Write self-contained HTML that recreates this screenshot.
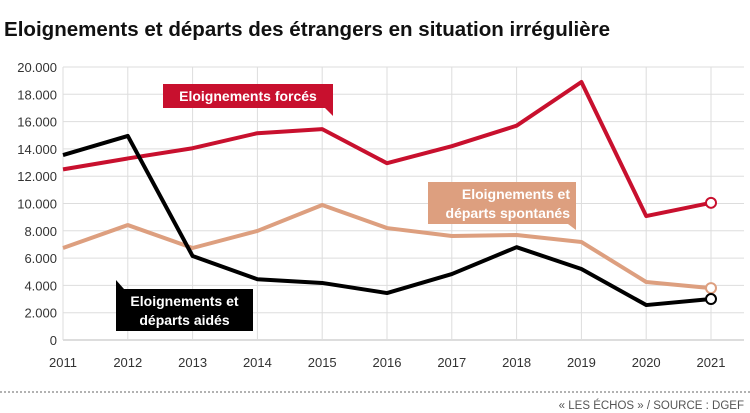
<!DOCTYPE html>
<html><head><meta charset="utf-8"><style>
html,body{margin:0;padding:0;background:#fff;width:750px;height:413px;overflow:hidden;font-family:"Liberation Sans",sans-serif}
</style></head><body>
<svg width="750" height="413" xmlns="http://www.w3.org/2000/svg">
<text x="4" y="36" font-size="20" font-weight="bold" fill="#111" textLength="606" lengthAdjust="spacingAndGlyphs">Eloignements et départs des étrangers en situation irrégulière</text>
<g id="grid"></g><g id="series"></g><g id="labels"></g>
<line x1="0" y1="392" x2="750" y2="392" stroke="#666" stroke-dasharray="2,2"/>
<text x="744" y="409" font-size="11.5" fill="#555" text-anchor="end">« LES ÉCHOS » / SOURCE : DGEF</text>
</svg>
<script>
const years=[2011,2012,2013,2014,2015,2016,2017,2018,2019,2020,2021];
const forces=[12500,13300,14050,15150,15450,12950,14200,15700,18900,9080,10050];
const aides=[13550,14950,6150,4450,4180,3440,4830,6800,5200,2560,3000];
const spontanes=[6740,8420,6740,7990,9890,8200,7620,7690,7180,4250,3800];
const yTicks=[0,2000,4000,6000,8000,10000,12000,14000,16000,18000,20000];
const NS="http://www.w3.org/2000/svg";
const x=i=>63+i*64.8;
const y=v=>340-v*(273/20000);
function mk(t,a,p){const e=document.createElementNS(NS,t);for(const k in a)e.setAttribute(k,a[k]);p.appendChild(e);return e;}
const grid=document.getElementById('grid');
yTicks.forEach(v=>{
  const l=mk('line',{x1:63,x2:744,y1:y(v),y2:y(v),stroke:v===0?'#bbb':'#ddd','stroke-width':1},grid);
  
  
  const t=mk('text',{x:57,y:y(v)+5,'font-size':13,fill:'#333','text-anchor':'end'},grid);
  t.textContent=v===0?'0':(Math.floor(v/1000)+'.000');
  
  
});
years.forEach((yr,i)=>{
  const l=mk('line',{x1:x(i),x2:x(i),y1:y(20000),y2:340,stroke:'#ddd','stroke-width':1},grid);
  
  
  const t=mk('text',{x:x(i),y:367,'font-size':13,fill:'#333','text-anchor':'middle'},grid);
  t.textContent=yr;
  
  
});
const ser=document.getElementById('series');
function line(vals,color,name){
  const p=mk('polyline',{points:vals.map((v,i)=>x(i)+','+y(v)).join(' '),fill:'none',stroke:color,'stroke-width':4,'stroke-linejoin':'round'},ser);
  
  
  const n=vals.length-1;
  const c=mk('circle',{cx:x(n),cy:y(vals[n]),r:5,fill:'#fff',stroke:color,'stroke-width':2},ser);
  
  
}
line(spontanes,'#dd9f7f','spontanes');
line(forces,'#c8102e','forces');
line(aides,'#000','aides');
const lab=document.getElementById('labels');
function label(x0,y0,w,h,color,lines,name,tail,anchor){
  const g=mk('g',{},lab);
  
  
  mk('rect',{x:x0,y:y0,width:w,height:h,fill:color},g);
  mk('polygon',{points:tail,fill:color},g);
  lines.forEach((s,i)=>{const t=mk('text',{x:anchor==='end'?x0+w-6:x0+w/2,y:y0+17+i*19,'font-size':14,'font-weight':'bold',fill:'#fff','text-anchor':anchor},g);t.textContent=s;});
}
label(163,84,170,24,'#c8102e',['Eloignements forcés'],'legend-forces','325,108 333,108 333,116','middle');
label(428,182,148,42,'#dd9f7f',['Eloignements et','départs spontanés'],'legend-spontanes','568,224 576,224 576,230','end');
label(116,289,137,42,'#000',['Eloignements et','départs aidés'],'legend-aides','116,289 116,280 124,289','middle');
</script>
</body></html>
